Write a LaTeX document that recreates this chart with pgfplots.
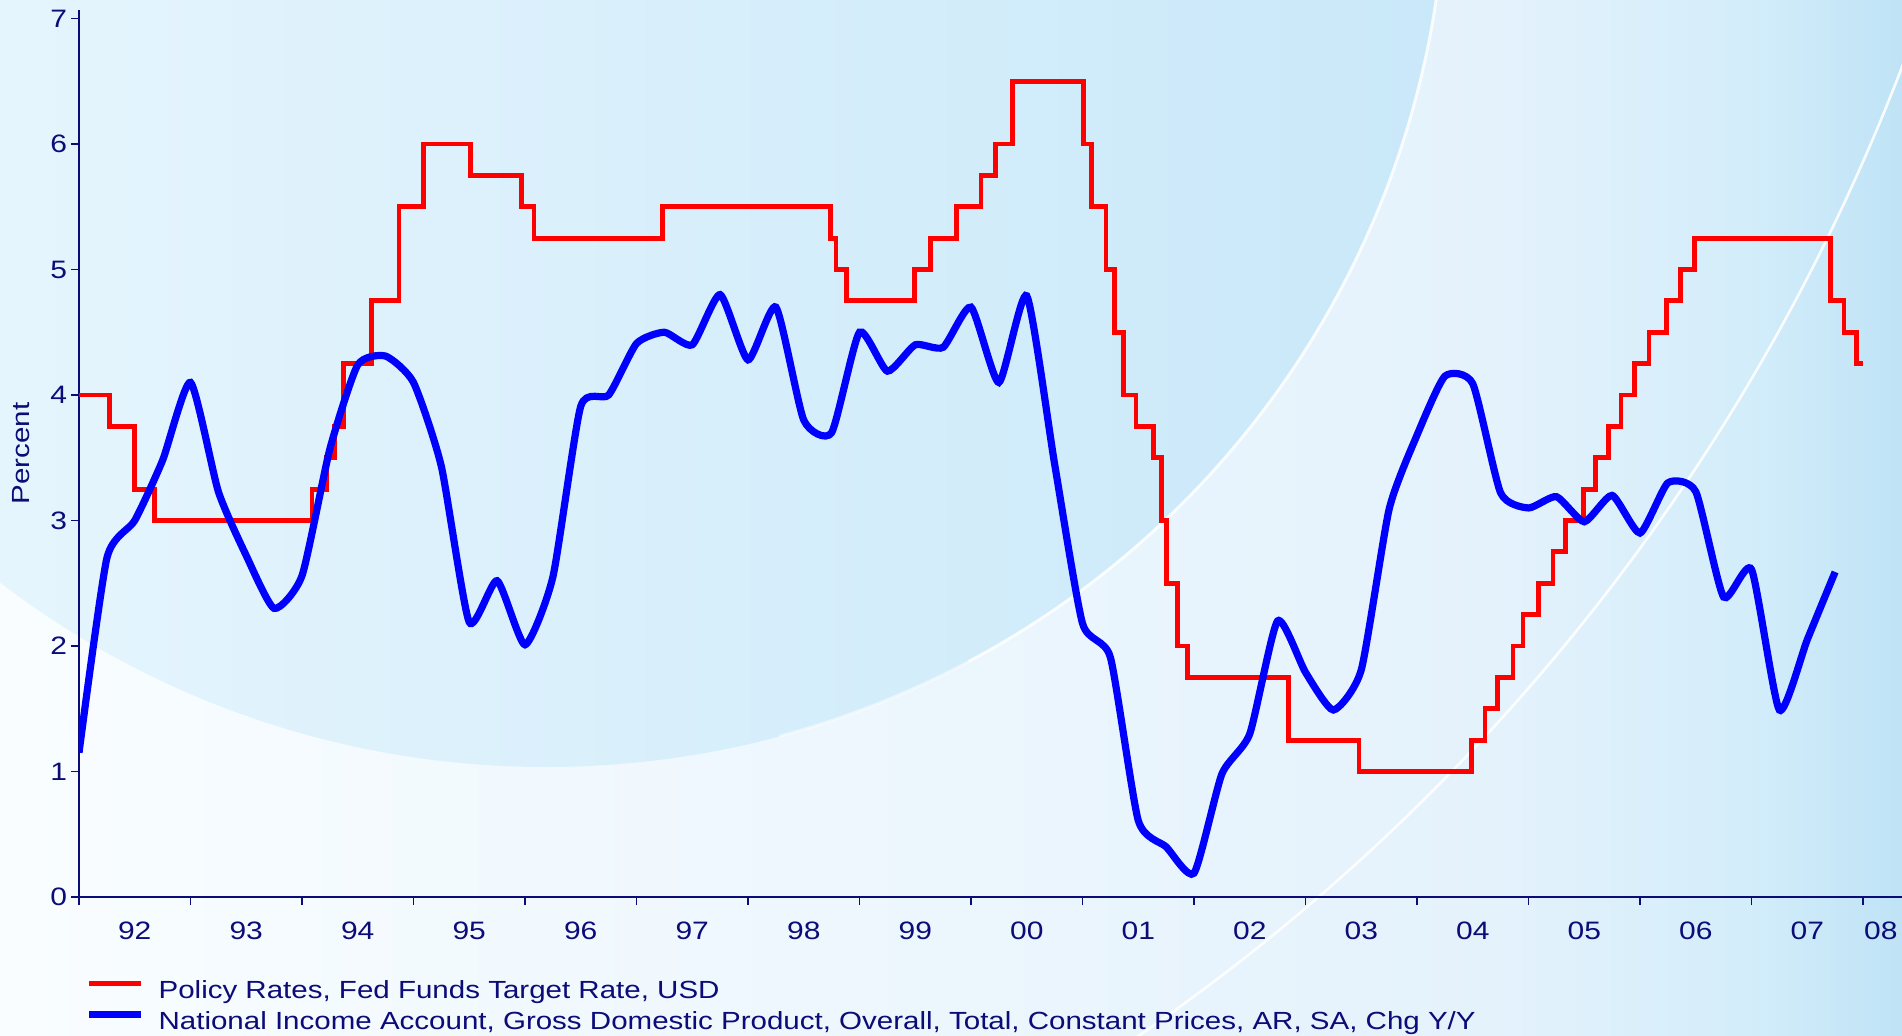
\documentclass[border=0pt]{standalone}
\usepackage{pgfplots}
\pgfplotsset{compat=1.18}
\usepackage{fontspec}
\setmainfont{Liberation Sans}[FakeStretch=1.19]
\definecolor{navytxt}{RGB}{12,12,120}
\definecolor{bgL}{HTML}{F9FDFF}
\definecolor{bgM}{HTML}{E4F2FC}
\definecolor{bgN}{HTML}{D3EDFA}
\definecolor{bgR}{HTML}{BFE3F6}
\definecolor{cirL}{HTML}{E5F5FD}
\definecolor{cirR}{HTML}{C9E8F9}

\pgfplotstableread{
x y
1992.00 4.00
1992.27 3.75
1992.50 3.25
1992.68 3.00
1994.09 3.25
1994.22 3.50
1994.29 3.75
1994.37 4.25
1994.62 4.75
1994.87 5.50
1995.09 6.00
1995.51 5.75
1995.97 5.50
1996.08 5.25
1997.23 5.50
1998.74 5.25
1998.79 5.00
1998.88 4.75
1999.49 5.00
1999.64 5.25
1999.87 5.50
2000.09 5.75
2000.22 6.00
2000.37 6.50
2001.01 6.00
2001.08 5.50
2001.21 5.00
2001.29 4.50
2001.37 4.00
2001.48 3.75
2001.64 3.50
2001.71 3.00
2001.75 2.50
2001.85 2.00
2001.94 1.75
2002.85 1.25
2003.48 1.00
2004.49 1.25
2004.61 1.50
2004.72 1.75
2004.86 2.00
2004.95 2.25
2005.09 2.50
2005.22 2.75
2005.33 3.00
2005.49 3.25
2005.60 3.50
2005.72 3.75
2005.83 4.00
2005.95 4.25
2006.08 4.50
2006.24 4.75
2006.36 5.00
2006.49 5.25
2007.71 4.75
2007.83 4.50
2007.94 4.25
2008.00 4.25
}\fedfunds

\pgfplotstableread{
x y
1992.00 1.15
1992.25 2.70
1992.50 3.00
1992.75 3.48
1993.00 4.10
1993.25 3.23
1993.50 2.72
1993.75 2.30
1994.00 2.56
1994.25 3.57
1994.50 4.24
1994.75 4.31
1995.00 4.10
1995.25 3.43
1995.50 2.19
1995.75 2.52
1996.00 2.01
1996.25 2.55
1996.50 3.91
1996.75 4.00
1997.00 4.41
1997.25 4.50
1997.50 4.40
1997.75 4.80
1998.00 4.28
1998.25 4.70
1998.50 3.80
1998.75 3.70
1999.00 4.50
1999.25 4.19
1999.50 4.40
1999.75 4.38
2000.00 4.70
2000.25 4.10
2000.50 4.79
2000.75 3.45
2001.00 2.18
2001.25 1.91
2001.50 0.61
2001.75 0.40
2002.00 0.19
2002.25 0.98
2002.50 1.30
2002.75 2.20
2003.00 1.79
2003.25 1.49
2003.50 1.81
2003.75 3.09
2004.00 3.68
2004.25 4.15
2004.50 4.09
2004.75 3.22
2005.00 3.10
2005.25 3.19
2005.50 2.99
2005.75 3.20
2006.00 2.90
2006.25 3.30
2006.50 3.23
2006.75 2.39
2007.00 2.61
2007.25 1.49
2007.50 2.05
2007.75 2.59
}\gdp

\begin{document}
\begin{tikzpicture}
\useasboundingbox (-39.5pt,-69pt) rectangle (911.5pt,448.5pt);
% background
\begin{scope}
\clip (-39.5pt,-69pt) rectangle (911.5pt,448.5pt);
\shade[left color=bgL, right color=bgM] (-39.5pt,-69pt) rectangle (710.5pt,448.5pt);
\shade[left color=bgM, right color=bgN] (710pt,-69pt) rectangle (835.5pt,448.5pt);
\shade[left color=bgN, right color=bgR] (835pt,-69pt) rectangle (911.5pt,448.5pt);
\begin{scope}
\clip (233.5pt,515pt) circle (450pt);
\shade[left color=cirL, right color=cirR] (-39.5pt,-69pt) rectangle (684pt,448.5pt);
\end{scope}
\draw[white, opacity=0.5, line width=1.5pt] (233.5pt,515pt) ++(-75:450pt) arc[start angle=-75, end angle=-62, radius=450pt];
\draw[white, opacity=0.85, line width=1.5pt] (233.5pt,515pt) ++(-62:450pt) arc[start angle=-62, end angle=0, radius=450pt];
\draw[white, opacity=0.9, line width=1.3pt] (-59.5pt,787.5pt) ++(-62:1040pt) arc[start angle=-62, end angle=-15, radius=1040pt];
\end{scope}

\begin{axis}[
  at={(0pt,0pt)}, anchor=south west,
  x=55.75pt, y=62.75pt,
  xmin=1992, xmax=2008.35, ymin=0, ymax=7.07,
  axis x line*=bottom, axis y line*=left,
  axis line style={draw=navytxt},
  x axis line style={line width=1.1pt},
  y axis line style={line width=0.7pt},
  xtick={1992,1993,1994,1995,1996,1997,1998,1999,2000,2001,2002,2003,2004,2005,2006,2007,2008},
  xticklabels={},
  extra x ticks={1992.5,1993.5,1994.5,1995.5,1996.5,1997.5,1998.5,1999.5,2000.5,2001.5,2002.5,2003.5,2004.5,2005.5,2006.5,2007.5,2008.16},
  extra x tick labels={92,93,94,95,96,97,98,99,00,01,02,03,04,05,06,07,08},
  extra x tick style={major tick length=0pt},
  ytick={0,1,2,3,4,5,6,7},
  tick align=outside,
  major tick length=4pt,
  tick style={draw=navytxt, line width=0.7pt},
  ticklabel style={font=\fontsize{12.6}{14}\selectfont, text=navytxt},
  xticklabel style={yshift=-9pt},
  yticklabel style={xshift=1.5pt},
  /pgf/number format/assume math mode=true,
  ylabel={Percent},
  every axis y label/.style={at={(axis description cs:-0.0318,0.5)}, rotate=90, anchor=center, font=\fontsize{12.4}{14}\selectfont, text=navytxt},
  legend style={draw=none, fill=none, at={(axis description cs:0.0033,-0.0938)}, anchor=north west,
    font=\fontsize{12.4}{14}\selectfont, text=navytxt, inner sep=0pt, row sep=3pt,
    nodes={inner sep=0pt, text height=9pt, text depth=3pt},
    /tikz/every odd column/.append style={column sep=7pt}},
  legend cell align=left,
  legend image code/.code={\draw[#1, line cap=butt] (0pt,4.4pt) -- (26pt,4.4pt);},
]
\addplot[const plot, color=red, line width=2.4pt, line join=miter] table[x=x,y=y] {\fedfunds};
\addlegendentry{Policy Rates, Fed Funds Target Rate, USD}
\addplot[smooth, tension=0.35, color=blue, line width=3.6pt] table[x=x,y=y] {\gdp};
\addlegendentry{National Income Account, Gross Domestic Product, Overall, Total, Constant Prices, AR, SA, Chg Y/Y}
\end{axis}
\end{tikzpicture}
\end{document}
